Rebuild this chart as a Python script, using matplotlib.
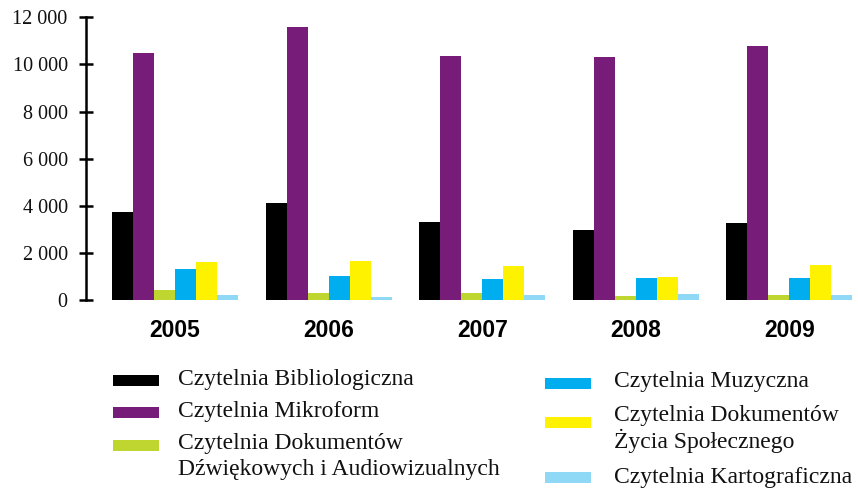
import matplotlib
matplotlib.use("Agg")
import matplotlib.pyplot as plt
from matplotlib.patches import Rectangle
import numpy as np

years = ["2005", "2006", "2007", "2008", "2009"]
series_names = [
    "Czytelnia Bibliologiczna",
    "Czytelnia Mikroform",
    "Czytelnia Dokumentów\nDźwiękowych i Audiowizualnych",
    "Czytelnia Muzyczna",
    "Czytelnia Dokumentów\nŻycia Społecznego",
    "Czytelnia Kartograficzna",
]
bibliologiczna = [3730, 4120, 3310, 2970, 3270]
mikroform = [10480, 11590, 10360, 10310, 10780]
dzwiekowych = [420, 300, 300, 170, 210]
muzyczna = [1320, 1020, 890, 930, 930]
zycia_spolecznego = [1610, 1650, 1440, 970, 1480]
kartograficzna = [210, 130, 210, 250, 210]
yticks = [0, 2000, 4000, 6000, 8000, 10000, 12000]
ytick_labels = ["0", "2 000", "4 000", "6 000", "8 000", "10 000", "12 000"]

colors = ["#000000", "#781C7A", "#BFD630", "#00AEEF", "#FFF200", "#8FD8F6"]
data = [bibliologiczna, mikroform, dzwiekowych, muzyczna, zycia_spolecznego, kartograficzna]

W, H = 858, 488
fig = plt.figure(figsize=(W / 100, H / 100), dpi=100)
ax_left, ax_right = 85.7, 858
ax_top, ax_bot = 17.3, 300
ax = fig.add_axes([ax_left / W, 1 - ax_bot / H, (ax_right - ax_left) / W, (ax_bot - ax_top) / H])

x = np.arange(len(years))
bw = 0.1367
for i, (vals, c) in enumerate(zip(data, colors)):
    ax.bar(x + (i - 2.5) * bw, vals, width=bw, color=c, linewidth=0)

ax.set_xlim(-0.581, 4.446)
ax.set_ylim(0, 12000)
for s in ["top", "right", "bottom"]:
    ax.spines[s].set_visible(False)
ax.spines["left"].set_linewidth(1.8)
ax.set_yticks(yticks)
ax.set_yticklabels(ytick_labels, fontfamily="Liberation Serif", fontsize=14.5, color="#111111")
ax.tick_params(axis="y", direction="inout", length=10, width=1.8, pad=8)
ax.set_xticks(x)
ax.set_xticklabels(years, fontfamily="Liberation Sans", fontweight="bold", fontsize=16.5)
ax.tick_params(axis="x", length=0, pad=14)

# legend (manual placement)
left_rows = [(380, [379]), (412, [411]), (445, [444, 470])]
right_rows = [(383, [382]), (422, [416, 441]), (477, [477])]
handle_h = 11
legend_font = dict(fontfamily="Liberation Serif", fontsize=17, color="#111111")

def add_entry(hx0, hx1, tx, hy, text_ys, color, name):
    fig.patches.append(Rectangle((hx0 / W, 1 - (hy + handle_h / 2) / H), (hx1 - hx0) / W, handle_h / H,
                                 transform=fig.transFigure, color=color, linewidth=0))
    lines = name.split("\n")
    for ln, ty in zip(lines, text_ys):
        fig.text(tx / W, 1 - ty / H, ln, ha="left", va="center", **legend_font)

for i in range(3):
    hy, tys = left_rows[i]
    add_entry(113, 159, 178, hy, tys, colors[i], series_names[i])
for i in range(3):
    hy, tys = right_rows[i]
    add_entry(545, 591, 614, hy, tys, colors[i + 3], series_names[i + 3])

fig.savefig("out.png", dpi=100)
